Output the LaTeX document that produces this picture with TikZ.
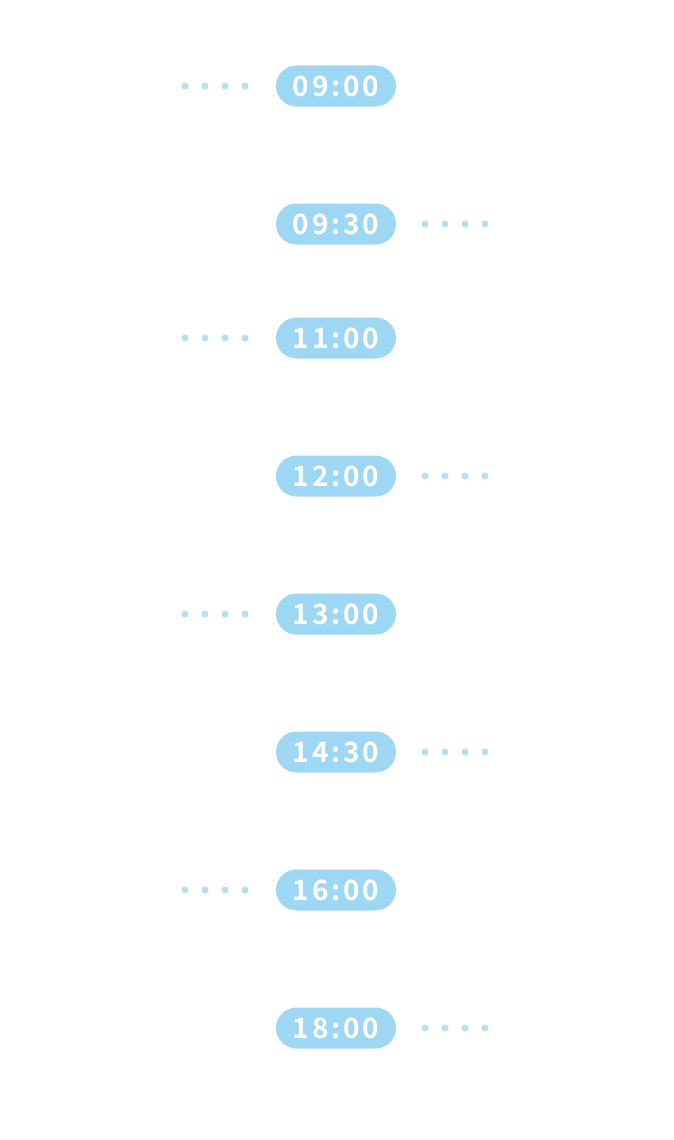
\documentclass[tikz,border=0pt]{standalone}
\usepackage{fontspec}
\newfontfamily\pillfont[LetterSpace=10]{Noto Sans CJK JP Bold}
\definecolor{pill}{HTML}{9ED7F3}
\definecolor{dotc}{HTML}{B3E0F2}
\begin{document}
\begin{tikzpicture}[x=1pt,y=-1pt]
\tikzset{
  pillbox/.style={fill=pill, rounded corners=20.5pt, minimum width=120pt, minimum height=41pt, inner sep=0pt, text=white, font=\pillfont\fontsize{28}{30}\selectfont},
  dotmark/.style={fill=dotc, circle, inner sep=0pt, minimum size=7pt}
}
\useasboundingbox (0,0) rectangle (673,1140);
\foreach \t/\y/\s [count=\i] in {09:00/86/L, 09:30/224/R, 11:00/338/L, 12:00/476/R, 13:00/614/L, 14:30/752/R, 16:00/890/L, 18:00/1028/R}{
  \node[pillbox] (p\i) at (336,\y) {\t};
  \if\s L
    \foreach \k/\x in {1/185,2/205,3/225,4/245} \node[dotmark] (d\i\k) at (\x,\y) {};
  \else
    \foreach \k/\x in {1/425,2/445,3/465,4/485} \node[dotmark] (d\i\k) at (\x,\y) {};
  \fi
}
\end{tikzpicture}
\end{document}
